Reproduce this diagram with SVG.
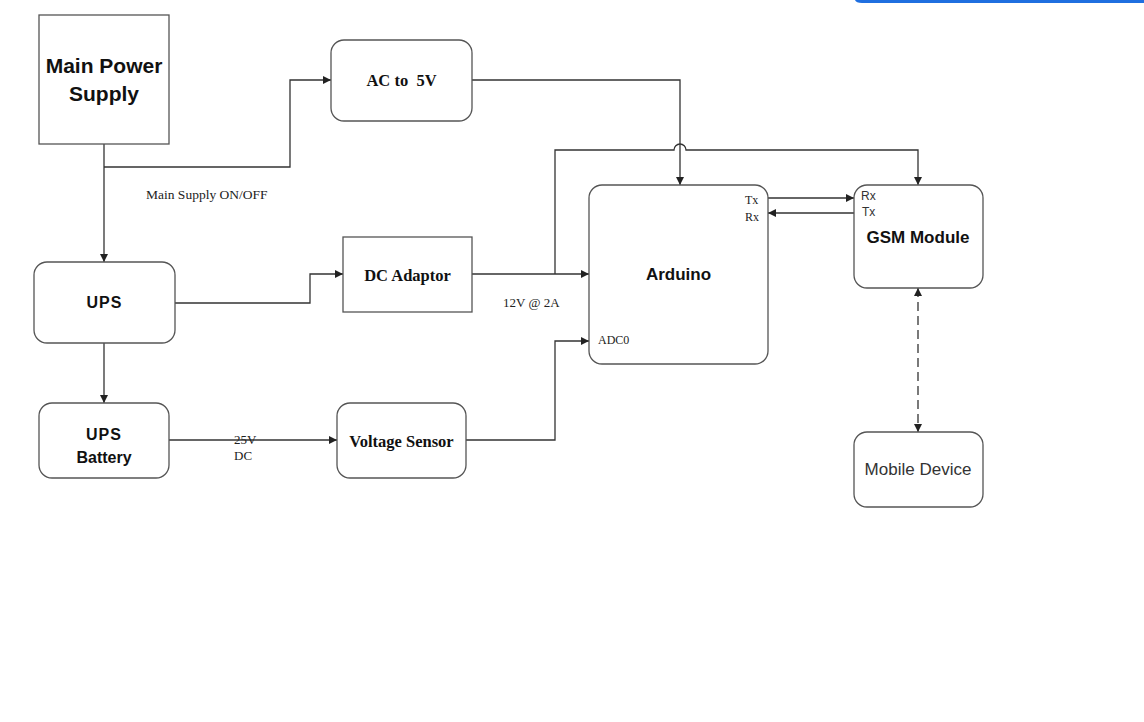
<svg xmlns="http://www.w3.org/2000/svg" width="1144" height="722" viewBox="0 0 1144 722">
<defs>
<style>
.box{fill:#fff;stroke:#555;stroke-width:1.3}
.ln{fill:none;stroke:#333;stroke-width:1.3}
.sb{font-family:"Liberation Sans",Arial,sans-serif;font-weight:bold;fill:#111;text-anchor:middle}
.rb{font-family:"Liberation Serif","Times New Roman",serif;font-weight:bold;fill:#111;text-anchor:middle;font-size:16.5px}
.rs{font-family:"Liberation Serif","Times New Roman",serif;fill:#222;font-size:13px}
.ss{font-family:"Liberation Sans",Arial,sans-serif;fill:#333;font-size:12px}
.md{font-family:"Liberation Sans",Arial,sans-serif;fill:#333;font-size:17px;text-anchor:middle}
</style>
<marker id="ah" viewBox="0 0 10 10" refX="10" refY="5" markerWidth="8" markerHeight="8" markerUnits="userSpaceOnUse" orient="auto-start-reverse">
<path d="M0,0 L10,5 L0,10 z" fill="#222"/>
</marker>
</defs>
<rect width="1144" height="722" fill="#fff"/>
<path d="M855,0 H1144 V3 H862 Q856,3 855,0 z" fill="#1f6fe0"/>

<g id="connectors">
<path class="ln" d="M104,144 V262" marker-end="url(#ah)"/>
<path class="ln" d="M104,167 H290 V80 H331" marker-end="url(#ah)"/>
<path class="ln" d="M472,80 H680 V185" marker-end="url(#ah)"/>
<path class="ln" d="M472,274 H589" marker-end="url(#ah)"/>
<path class="ln" d="M555,274 V150 H674 A6,6 0 0 1 686,150 H918 V185" marker-end="url(#ah)"/>
<path class="ln" d="M175,303 H310 V274 H343" marker-end="url(#ah)"/>
<path class="ln" d="M104,343 V403" marker-end="url(#ah)"/>
<path class="ln" d="M169,440 H337" marker-end="url(#ah)"/>
<path class="ln" d="M466,440 H555 V341 H589" marker-end="url(#ah)"/>
<path class="ln" d="M768,198 H854" marker-end="url(#ah)"/>
<path class="ln" d="M854,213 H768" marker-end="url(#ah)"/>
<path class="ln" d="M918,288 V432" stroke-dasharray="9,5" marker-start="url(#ah)" marker-end="url(#ah)"/>
<text class="rs" x="146" y="199" font-size="13.5" style="font-size:13.5px">Main Supply ON/OFF</text>
<text class="rs" x="503" y="307">12V @ 2A</text>
<text class="rs" x="234" y="444">25V</text>
<text class="rs" x="234" y="460">DC</text>
</g>

<g id="main-power-supply">
<rect class="box" x="39" y="15" width="130" height="129"/>
<text class="sb" font-size="21" x="104" y="73">Main Power</text>
<text class="sb" font-size="21" x="104" y="101">Supply</text>
</g>
<g id="ac-to-5v">
<rect class="box" x="331" y="40" width="141" height="81" rx="13"/>
<text class="rb" x="401.5" y="86" xml:space="preserve">AC to  5V</text>
</g>
<g id="ups">
<rect class="box" x="34" y="262" width="141" height="81" rx="13"/>
<text class="sb" font-size="16" x="104.5" y="308" letter-spacing="1">UPS</text>
</g>
<g id="dc-adaptor">
<rect class="box" x="343" y="237" width="129" height="75"/>
<text class="rb" x="407.5" y="281">DC Adaptor</text>
</g>
<g id="ups-battery">
<rect class="box" x="39" y="403" width="130" height="75" rx="13"/>
<text class="sb" font-size="16" x="104" y="440" letter-spacing="1">UPS</text>
<text class="sb" font-size="16" x="104" y="463">Battery</text>
</g>
<g id="voltage-sensor">
<rect class="box" x="337" y="403" width="129" height="75" rx="13"/>
<text class="rb" x="401.5" y="447">Voltage Sensor</text>
</g>
<g id="arduino">
<rect class="box" x="589" y="185" width="179" height="179" rx="13"/>
<text class="sb" font-size="17" x="678.5" y="280">Arduino</text>
<text class="rs" x="745" y="204" style="font-size:12px">Tx</text>
<text class="rs" x="745" y="221" style="font-size:12px">Rx</text>
<text class="rs" x="598" y="344" style="font-size:12px">ADC0</text>
</g>
<g id="gsm-module">
<rect class="box" x="854" y="185" width="129" height="103" rx="13"/>
<text class="ss" x="861" y="200">Rx</text>
<text class="ss" x="862" y="216">Tx</text>
<text class="sb" font-size="17" x="918" y="243">GSM Module</text>
</g>
<g id="mobile-device">
<rect class="box" x="854" y="432" width="129" height="75" rx="13"/>
<text class="md" x="918" y="475">Mobile Device</text>
</g>
</svg>
